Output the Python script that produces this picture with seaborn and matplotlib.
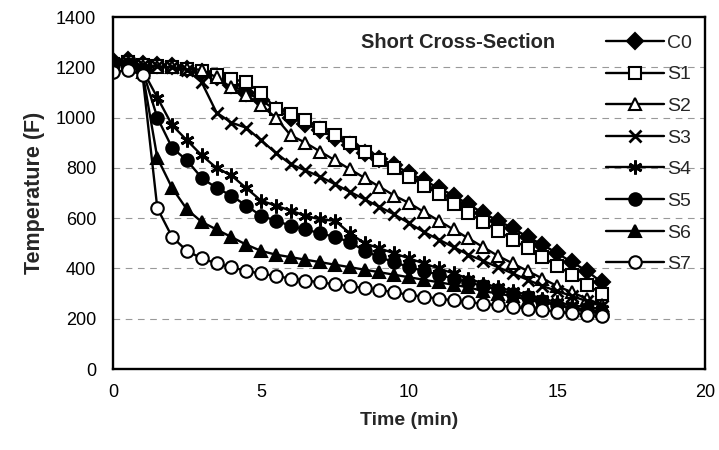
import numpy as np
import pandas as pd
import matplotlib
matplotlib.use("Agg")
import matplotlib.pyplot as plt
import seaborn as sns

time_min = [0, 0.5, 1, 1.5, 2, 2.5, 3, 3.5, 4, 4.5, 5, 5.5, 6, 6.5, 7, 7.5, 8, 8.5,
            9, 9.5, 10, 10.5, 11, 11.5, 12, 12.5, 13, 13.5, 14, 14.5, 15, 15.5, 16, 16.5]

C0 = [1225, 1230, 1215, 1210, 1205, 1195, 1180, 1160, 1130, 1100, 1070, 1030, 1000, 975,
      950, 920, 890, 860, 835, 810, 780, 750, 720, 690, 655, 620, 590, 560, 525, 495,
      460, 425, 390, 345]
S1 = [1215, 1220, 1210, 1205, 1200, 1195, 1185, 1170, 1155, 1140, 1100, 1035, 1015, 990,
      960, 930, 900, 865, 830, 800, 765, 730, 695, 655, 620, 585, 550, 515, 480, 445,
      410, 375, 335, 300]
S2 = [1205, 1215, 1205, 1200, 1200, 1195, 1190, 1160, 1120, 1090, 1050, 1000, 930, 900,
      865, 830, 795, 760, 725, 690, 660, 625, 590, 555, 520, 485, 450, 420, 390, 360,
      330, 305, 280, 255]
S3 = [1210, 1220, 1210, 1205, 1200, 1190, 1140, 1020, 980, 960, 910, 860, 815, 790,
      765, 735, 705, 675, 645, 615, 580, 545, 515, 485, 455, 430, 405, 380, 355, 330,
      310, 290, 270, 250]
S4 = [1220, 1215, 1190, 1080, 970, 910, 850, 800, 770, 720, 670, 650, 630, 610,
      595, 590, 540, 500, 480, 460, 440, 420, 400, 380, 360, 340, 325, 310, 295, 280,
      265, 255, 245, 240]
S5 = [1210, 1215, 1190, 1000, 880, 830, 760, 720, 690, 650, 610, 590, 570, 555,
      540, 525, 505, 470, 445, 425, 405, 390, 375, 360, 345, 330, 315, 300, 285, 270,
      255, 240, 230, 220]
S6 = [1210, 1210, 1180, 840, 720, 635, 585, 555, 525, 495, 470, 455, 445, 435,
      425, 415, 405, 395, 385, 375, 365, 355, 345, 335, 325, 310, 300, 290, 275, 265,
      255, 245, 235, 230]
S7 = [1180, 1190, 1170, 640, 525, 470, 440, 420, 405, 390, 380, 370, 360, 352,
      345, 337, 330, 322, 315, 305, 295, 288, 280, 273, 266, 260, 253, 247, 240, 235,
      228, 222, 216, 210]

series_names = ["C0", "S1", "S2", "S3", "S4", "S5", "S6", "S7"]
series_values = [C0, S1, S2, S3, S4, S5, S6, S7]

x_ticks = [0, 5, 10, 15, 20]
y_ticks = [0, 200, 400, 600, 800, 1000, 1200, 1400]

sns.set_theme(style="white")
plt.rcParams['font.family'] = ['Liberation Sans', 'DejaVu Sans']

styles = {
    "C0": dict(marker="D", markerfacecolor="black", markersize=8),
    "S1": dict(marker="s", markerfacecolor="white", markersize=8),
    "S2": dict(marker="^", markerfacecolor="white", markersize=9),
    "S3": dict(marker="x", markersize=9, markeredgewidth=2.0),
    "S4": dict(marker=(6, 2, 0), markersize=10, markeredgewidth=2.0),
    "S5": dict(marker="o", markerfacecolor="black", markersize=9),
    "S6": dict(marker="^", markerfacecolor="black", markersize=9),
    "S7": dict(marker="o", markerfacecolor="white", markersize=9),
}

fig = plt.figure(figsize=(7.19, 4.5), dpi=100)
ax = fig.add_axes([0.157, 0.18, 0.824, 0.782])

for name, vals in zip(series_names, series_values):
    df = pd.DataFrame({"Time": time_min, "Temp": vals})
    st = dict(styles[name])
    sns.lineplot(data=df, x="Time", y="Temp", ax=ax, color="black", linewidth=1.7,
                 markeredgecolor="black", label=name,
                 markeredgewidth=st.pop("markeredgewidth", 1.5), **st)

ax.set_xlim(0, 20)
ax.set_ylim(0, 1400)
ax.set_xticks(x_ticks)
ax.set_yticks(y_ticks)
ax.tick_params(axis="both", labelsize=13, colors="black", length=3, width=1,
               direction="out", pad=9)
ax.tick_params(axis="x", length=0, pad=11)

for y in y_ticks[1:-1]:
    ax.axhline(y, color="#999999", linestyle=(0, (6, 5)), linewidth=0.8, zorder=0)

for sp in ax.spines.values():
    sp.set_color("black")
    sp.set_linewidth(1.7)

ax.set_xlabel("Time (min)", fontsize=14, fontweight="bold", labelpad=8)
ax.set_ylabel("Temperature (F)", fontsize=15.5, fontweight="bold", labelpad=8)

ax.text(0.583, 0.929, "Short Cross-Section", transform=ax.transAxes,
        fontsize=14.5, fontweight="bold", ha="center", va="center")

leg = ax.legend(loc="upper right", frameon=False, fontsize=14, handlelength=3.0,
                labelspacing=0.72, borderaxespad=0.3, handletextpad=0.15,
                bbox_to_anchor=(1.0, 0.99))

fig.savefig("out.png", dpi=100, facecolor="white")
